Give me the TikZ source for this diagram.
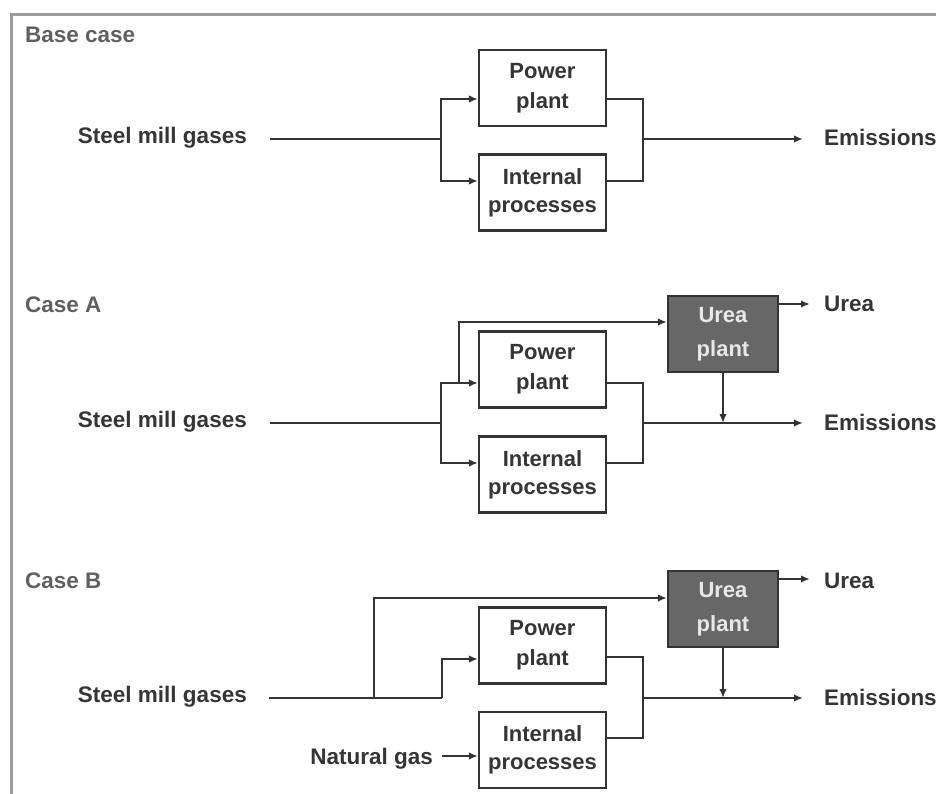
\documentclass[tikz,border=0pt]{standalone}
\usepackage{fontspec}
\setmainfont{Liberation Sans}
\usetikzlibrary{arrows.meta}
\definecolor{ink}{HTML}{333333}
\definecolor{txtc}{HTML}{353535}
\definecolor{labc}{HTML}{606060}
\definecolor{frame}{HTML}{9B9B9B}
\definecolor{ureafill}{HTML}{676767}
\definecolor{ureatxt}{HTML}{E8E8E8}
\tikzset{
  line/.style={draw=ink, line width=2.2pt},
  arr/.style={line, -{Latex[length=9pt,width=7.5pt]}},
  txt/.style={inner sep=0pt, text=txtc, font=\fontsize{22.5}{27}\selectfont\bfseries},
  lab/.style={inner sep=0pt, text=labc, font=\fontsize{22.5}{27}\selectfont\bfseries, anchor=base west},
  pbox/.style={draw=ink, line width=2.2pt, fill=white, minimum width=127pt, minimum height=76pt, inner sep=0pt, align=center, text=txtc, font=\fontsize{22}{30}\selectfont\bfseries},
  ibox/.style={pbox, font=\fontsize{22}{28}\selectfont\bfseries},
  ubox/.style={draw=ink, line width=2.2pt, fill=ureafill, minimum width=110pt, minimum height=76pt, inner sep=0pt, align=center, text=ureatxt, font=\fontsize{22}{34}\selectfont\bfseries},
}
\begin{document}
\begin{tikzpicture}[x=1pt,y=-1pt]
\useasboundingbox (0,0) rectangle (936,794);
% frame
\draw[draw=frame, line width=3pt] (11.5,794) -- (11.5,14.5) -- (936,14.5);

% ---------------- Base case ----------------
\node[lab] (lbase) at (25,43) {Base case};
\node[txt, anchor=base east] (b-s) at (247,144) {Steel mill gases};
\node[pbox] (b-pp) at (542.5,88) {Power\\plant};
\node[ibox] (b-ip) at (542.5,192.5) {Internal\\processes};
\node[txt, anchor=base west] (b-em) at (824,146) {Emissions};
\coordinate (b-in) at (270,139);
\coordinate (b-j) at (441,139);
\coordinate (b-k) at (643,139);
\coordinate (b-out) at (803,139);
\draw[line] (b-in) -- (b-j);
\draw[arr] (b-j) |- ([yshift=-11pt]b-pp.west);
\draw[arr] (b-j) |- ([yshift=11.5pt]b-ip.west);
\draw[line] ([yshift=-11pt]b-pp.east) -| (b-k) |- ([yshift=11.5pt]b-ip.east);
\draw[arr] (b-k) -- (b-out);

% ---------------- Case A ----------------
\node[lab] (la) at (25,312) {Case A};
\node[txt, anchor=base east] (a-s) at (247,427) {Steel mill gases};
\node[pbox] (a-pp) at (542.5,369.5) {Power\\plant};
\node[ibox] (a-ip) at (542.5,474.5) {Internal\\processes};
\node[ubox] (a-up) at (723,334) {Urea\\plant};
\node[txt, anchor=base west] (a-em) at (824,430) {Emissions};
\node[txt, anchor=base west] (a-ur) at (824,311) {Urea};
\coordinate (a-in) at (270,423);
\coordinate (a-j) at (441,423);
\coordinate (a-k) at (643,423);
\coordinate (a-out) at (803,423);
\coordinate (a-u) at (459,383);
\coordinate (a-uo) at (810,304);
\draw[line] (a-in) -- (a-j);
\draw[arr] (a-j) |- ([yshift=-13.5pt]a-pp.west);
\draw[arr] (a-j) |- ([yshift=11.5pt]a-ip.west);
\draw[arr] (a-u) |- ([yshift=12pt]a-up.west);
\draw[line] ([yshift=-13.5pt]a-pp.east) -| (a-k) |- ([yshift=11.5pt]a-ip.east);
\draw[arr] (a-k) -- (a-out);
\draw[arr] (a-up.east |- a-uo) -- (a-uo);
\draw[arr] (a-up.south) -- (a-up.south |- a-k);

% ---------------- Case B ----------------
\node[lab] (lb) at (25,588) {Case B};
\node[txt, anchor=base east] (c-s) at (247,702) {Steel mill gases};
\node[pbox] (c-pp) at (542.5,645.5) {Power\\plant};
\node[ibox] (c-ip) at (542.5,750) {Internal\\processes};
\node[ubox] (c-up) at (723,609) {Urea\\plant};
\node[txt, anchor=base west] (c-em) at (824,705) {Emissions};
\node[txt, anchor=base west] (c-ur) at (824,588) {Urea};
\node[txt, anchor=base east] (c-ng) at (433,764) {Natural gas};
\coordinate (c-in) at (269,698);
\coordinate (c-j) at (442,698);
\coordinate (c-k) at (643,698);
\coordinate (c-out) at (803,698);
\coordinate (c-u) at (374,698);
\coordinate (c-uo) at (810,579);
\coordinate (c-ngs) at (442,756);
\draw[line] (c-in) -- (c-j);
\draw[arr] (c-j) |- ([yshift=-13.5pt]c-pp.west);
\draw[arr] (c-u) |- ([yshift=11pt]c-up.west);
\draw[line] ([yshift=-11.5pt]c-pp.east) -| (c-k) |- ([yshift=12pt]c-ip.east);
\draw[arr] (c-k) -- (c-out);
\draw[arr] (c-ngs) -- (c-ip.west |- c-ngs);
\draw[arr] (c-up.east |- c-uo) -- (c-uo);
\draw[arr] (c-up.south) -- (c-up.south |- c-k);
\end{tikzpicture}
\end{document}
